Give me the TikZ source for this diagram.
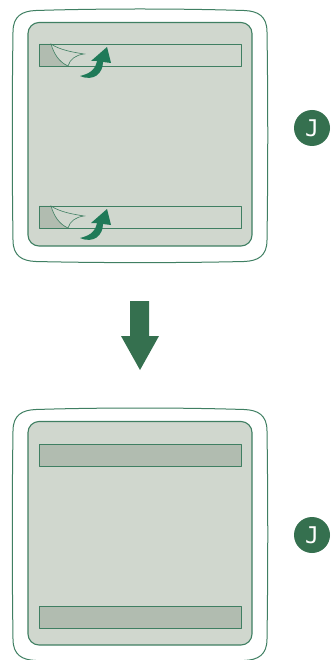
\documentclass[tikz,border=0pt]{standalone}
\usepackage{xcolor}
\usepackage{fontspec}
\setsansfont{DejaVu Sans Mono}
\usetikzlibrary{positioning}
\definecolor{framegreen}{HTML}{3F7F62}
\definecolor{darkgreen}{HTML}{35704F}
\definecolor{peelgreen}{HTML}{1F7A58}
\definecolor{panelfill}{HTML}{D0D7CE}
\definecolor{stripfill}{HTML}{B1BCB0}
\tikzset{
  outerframe/.style={draw=framegreen, line width=1pt, fill=white},
  innerpanel/.style={draw=framegreen, line width=1.1pt, fill=panelfill, rounded corners=11pt},
  stripbox/.style={draw=framegreen, line width=.9pt, line join=round},
  peelline/.style={draw=framegreen, line width=.6pt},
  peelarrow/.style={fill=peelgreen, draw=none},
  badge/.style={circle, fill=darkgreen, text=white, minimum size=36pt, inner sep=0pt, font=\sffamily\fontsize{23}{23}\selectfont},
  downarrow/.style={fill=darkgreen, draw=none},
  panelshape/.pic={
    \draw[outerframe] (13,32) .. controls (13,16) and (22,11) .. (36,10.5) .. controls (100,8.5) and (180,8.5) .. (244,10.5)
      .. controls (258,11) and (267,16) .. (267,32) .. controls (268,100) and (268,170) .. (267,240)
      .. controls (267,256) and (258,261) .. (244,261.5) .. controls (180,263) and (100,263) .. (36,261.5)
      .. controls (22,261) and (13,256) .. (13,240) .. controls (12,170) and (12,100) .. (13,32) -- cycle;
    \draw[innerpanel] (28,22.5) rectangle (252,246);
  },
  peeledstrip/.pic={
    \fill[stripfill] (39,44) -- (51,44) .. controls (54,54) and (59,62) .. (68,66) -- (39,66) -- cycle;
    \draw[stripbox] (39,44) rectangle (241,66);
    \draw[peelline] (51,44) .. controls (60,50) and (72,52) .. (84,54)
      .. controls (76,55) and (70,59) .. (68,66) .. controls (59,62) and (54,54) .. (51,44) -- cycle;
    \fill[peelarrow] (80,76) .. controls (88,74) and (95,71) .. (97,61) -- (91,61) -- (107,47) -- (111,63)
      -- (103,62) .. controls (103,73) and (94,82) .. (80,76) -- cycle;
  },
}
\begin{document}
\begin{tikzpicture}[x=1pt, y=-1pt]
  \useasboundingbox (0,0) rectangle (330,660);
  % first state
  \pic at (0,0) {panelshape};
  \pic at (0,0) {peeledstrip};
  \pic at (0,162) {peeledstrip};
  \node[badge] (badgetop) at (312,128) {J};
  % arrow in between
  \fill[downarrow] (130,301) -- (149,301) -- (149,336) -- (159,336) -- (140,370) -- (121,336) -- (130,336) -- cycle;
  % second state
  \pic at (0,399) {panelshape};
  \draw[stripbox, fill=stripfill] (39,444) rectangle (241,466);
  \draw[stripbox, fill=stripfill] (39,606) rectangle (241,628);
  \node[badge] (badgebottom) at (312,535) {J};
\end{tikzpicture}
\end{document}
